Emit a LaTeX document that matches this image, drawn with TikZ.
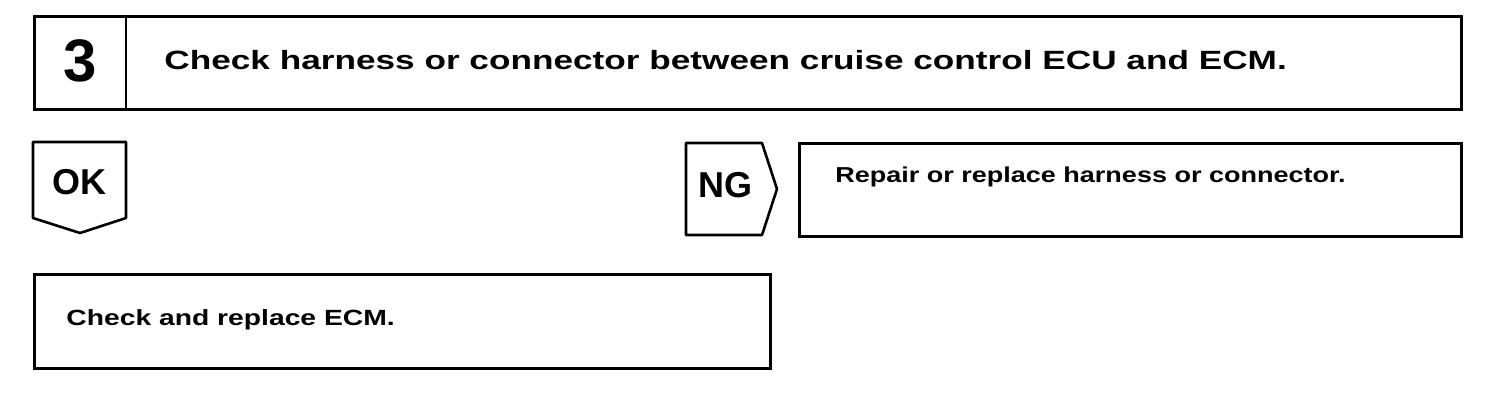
\documentclass[tikz,border=0pt]{standalone}
\usepackage{graphicx}
\usepackage{fontspec}
\setmainfont{Liberation Sans}
\begin{document}
\begin{tikzpicture}[x=0.5pt,y=-0.5pt,
  frame/.style={draw=black,line width=1.3pt,inner sep=0pt,anchor=north west},
  lbl/.style={inner sep=0pt,font=\bfseries,anchor=west},
  tab/.style={draw=black,line width=1.3pt,line join=round}]
\useasboundingbox (0,0) rectangle (1504,404);
% top header box
\node[frame,minimum width=713.5pt,minimum height=46.5pt] (head) at (33,15) {};
\draw[line width=1pt] (126,15) -- (126,108);
\node[inner sep=0pt,font=\bfseries\fontsize{30}{30}\selectfont] (num) at (80,61) {3};
\node[lbl,font=\bfseries\fontsize{13.2}{14}\selectfont] (title) at (164,60) {\scalebox{1.333}[1]{Check harness or connector between cruise control ECU and ECM.}};
% OK tab
\draw[tab] (33,142) -- (126,142) -- (126,218) -- (80,233) -- (33,218) -- cycle;
\node[lbl,font=\bfseries\fontsize{18}{18}\selectfont] (ok) at (52,182) {OK};
% NG tab
\draw[tab] (686,143) -- (762,143) -- (777,189) -- (762,235) -- (686,235) -- cycle;
\node[lbl,font=\bfseries\fontsize{18}{18}\selectfont] (ng) at (698,185) {NG};
% repair box
\node[frame,minimum width=331pt,minimum height=46.5pt] (repairbox) at (798,142) {};
\node[lbl,font=\bfseries\fontsize{10.8}{12}\selectfont] (repair) at (835,177) {\scalebox{1.25}[1]{Repair or replace harness or connector.}};
% ECM box
\node[frame,minimum width=368pt,minimum height=47pt] (ecmbox) at (33,273) {};
\node[lbl,font=\bfseries\fontsize{11}{12}\selectfont] (ecm) at (66,319.5) {\scalebox{1.285}[1]{Check and replace ECM.}};
\end{tikzpicture}
\end{document}
